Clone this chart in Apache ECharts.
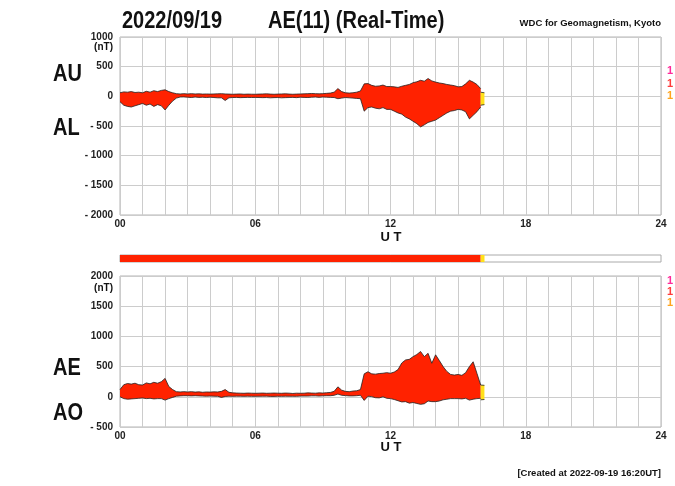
<!DOCTYPE html>
<html>
<head>
<meta charset="utf-8">
<title>AE(11) Real-Time</title>
<script src="https://cdn.jsdelivr.net/npm/echarts@6/dist/echarts.min.js"></script>
<style>
  html, body { margin: 0; padding: 0; background: #fff; }
  #main { width: 675px; height: 486px; }
</style>
</head>
<body>
<div id="main"></div>
<script>
// 10-minute values, 00:00 .. 16:00 UT
const stepMin = 10;
const AU = [60, 75, 70, 80, 65, 70, 60, 85, 70, 95, 80, 100,
  110, 80, 60, 45, 40, 45, 40, 45, 40, 42, 38, 40,
  38, 40, 42, 45, 40, 38, 35, 38, 40, 35, 38, 36,
  35, 38, 40, 42, 38, 35, 38, 40, 42, 38, 35, 38,
  40, 42, 45, 48, 45, 42, 45, 50, 55, 70, 130, 80,
  60, 55, 60, 70, 90, 210, 215, 185, 170, 175, 190, 165,
  165, 160, 150, 170, 185, 200, 230, 245, 270, 255, 300, 260,
  240, 225, 215, 200, 190, 180, 160, 165, 210, 270, 240, 200,
  130];
const AL = [-90, -150, -170, -180, -160, -140, -120, -150, -130, -170, -140, -160,
  -230, -150, -80, -30, -12, -10, -15, -20, -12, -18, -15, -20,
  -15, -20, -25, -25, -70, -25, -20, -18, -22, -20, -18, -20,
  -18, -20, -22, -20, -25, -22, -20, -25, -22, -20, -18, -22,
  -15, -18, -20, -15, -12, -18, -12, -15, -18, -20, -40, -30,
  -20, -25, -30, -35, -40, -250, -190, -180, -200, -210, -190, -220,
  -220, -250, -280, -300, -350, -380, -420, -460, -515, -480, -440, -420,
  -400, -360, -320, -280, -250, -240, -220, -230, -260, -380, -320, -260,
  -180];
const AE = [120, 200, 220, 210, 225, 200, 195, 230, 215, 240, 225, 250,
  305, 170, 120, 85, 80, 85, 80, 85, 78, 82, 75, 80,
  78, 82, 80, 90, 120, 75, 65, 62, 60, 58, 62, 60,
  58, 60, 62, 58, 60, 62, 60, 58, 62, 60, 55, 60,
  58, 60, 65, 62, 60, 65, 62, 68, 72, 90, 165, 110,
  90, 85, 95, 100, 120, 380, 415, 380, 375, 385, 390, 400,
  390, 410, 450, 560, 610, 620, 665, 700, 750, 665, 720, 555,
  695, 600, 500, 420, 370, 360, 370, 355, 400, 500, 580, 390,
  195];
const AO = [0, -30, -40, -35, -30, -25, -20, -30, -25, -35, -30, -30,
  -55, -30, -10, 10, 15, 18, 18, 15, 18, 15, 12, 10,
  12, 10, 8, -10, 5, 10, 8, 10, 10, 8, 10, 8,
  8, 9, 10, 11, 7, 7, 9, 8, 10, 9, 9, 8,
  12, 12, 12, 16, 16, 12, 16, 18, 18, 25, 45, 25,
  20, 15, 15, 18, 25, -60, 10, 3, -15, -18, 0, -25,
  -30, -45, -65, -85, -80, -105, -95, -110, -125, -115, -70, -80,
  -80, -70, -50, -40, -30, -30, -30, -35, -25, -55, -40, -30,
  -25];
// latest (provisional) values 16:00 and 16:10, drawn yellow
const recentAU = [70, 60];
const recentAL = [-150, -140];
const recentAE = [195, 190];
const recentAO = [-50, -45];
// data coverage bar: [final, provisional] hours
const coverage = [16.0, 0.17];

const xTicks = ['00', '06', '12', '18', '24'];
// category axis: one slot every 10 minutes over the whole day
const times = [];
for (let m = 0; m <= 24 * 60; m += stepMin) times.push(m);
const perHour = 60 / stepMin;

const font = "'Liberation Sans', Arial, sans-serif";
const red = '#ff2200';
const yellow = '#ffe01a';
const gridGray = '#cccccc';

function diff(a, b) { return a.map((v, i) => v - b[i]); }
function atEnd(vals) { return Array(AU.length - 1).fill('-').concat(vals); }

function xAxisFor(idx) {
  return {
    gridIndex: idx, type: 'category', data: times, boundaryGap: false,
    axisLine: { show: false }, axisTick: { show: false },
    axisLabel: {
      margin: 4, fontSize: 10, fontWeight: 'bold', color: '#222', fontFamily: font,
      interval: i => i % (6 * perHour) === 0,
      formatter: (v, i) => xTicks[i / (6 * perHour)]
    },
    splitLine: { show: true, interval: i => i % perHour === 0, lineStyle: { color: gridGray, width: 1 } }
  };
}
function yAxisFor(idx, min, max) {
  return {
    gridIndex: idx, type: 'value', min: min, max: max, interval: 500,
    axisLine: { show: false }, axisTick: { show: false },
    axisLabel: {
      margin: 7, fontSize: 10, fontWeight: 'bold', color: '#222', fontFamily: font,
      formatter: v => v < 0 ? '- ' + (-v) : String(v)
    },
    splitLine: { show: true, lineStyle: { color: gridGray, width: 1 } }
  };
}
function band(idx, stack, lower, upper, fill) {
  return [
    {
      type: 'line', xAxisIndex: idx, yAxisIndex: idx, stack: stack, stackStrategy: 'all',
      data: lower, symbol: 'none', z: 4,
      lineStyle: { color: '#222', width: 0.8 }
    },
    {
      type: 'line', xAxisIndex: idx, yAxisIndex: idx, stack: stack, stackStrategy: 'all',
      data: diff(upper, lower), symbol: 'none', z: 3,
      lineStyle: { color: '#222', width: 0.8 },
      areaStyle: { color: fill, opacity: 1 }
    }
  ];
}

function label(text, x, y, size, opts) {
  opts = opts || {};
  return {
    type: 'text', x: x, y: y, scaleY: opts.scaleY || 1, z: 100,
    style: {
      text: text, fill: opts.color || '#111',
      font: 'bold ' + size + 'px ' + font,
      align: opts.align || 'left', textAlign: opts.align || 'left',
      verticalAlign: 'middle', textVerticalAlign: 'middle'
    }
  };
}

const chart = echarts.init(document.getElementById('main'));
const option = {
  animation: false,
  backgroundColor: '#fff',
  grid: [
    { left: 120, top: 37, width: 541, height: 178, show: true, borderColor: '#b5b5b5', borderWidth: 1 },
    { left: 120, top: 255, width: 541, height: 7, show: true, borderColor: '#aaaaaa', borderWidth: 1, backgroundColor: '#fff' },
    { left: 120, top: 276, width: 541, height: 151, show: true, borderColor: '#b5b5b5', borderWidth: 1 }
  ],
  xAxis: [
    xAxisFor(0),
    { gridIndex: 1, type: 'value', min: 0, max: 24, show: false, splitLine: { show: false } },
    xAxisFor(2)
  ],
  yAxis: [
    yAxisFor(0, -2000, 1000),
    { gridIndex: 1, type: 'category', data: ['data'], show: false },
    yAxisFor(2, -500, 2000)
  ],
  series: [
    ...band(0, 'aual', AL, AU, red),
    ...band(0, 'aualRecent', atEnd(recentAL), atEnd(recentAU), yellow),
    ...band(2, 'aeao', AO, AE, red),
    ...band(2, 'aeaoRecent', atEnd(recentAO), atEnd(recentAE), yellow),
    { type: 'bar', xAxisIndex: 1, yAxisIndex: 1, stack: 'cov', barWidth: '100%',
      data: [coverage[0]], itemStyle: { color: red } },
    { type: 'bar', xAxisIndex: 1, yAxisIndex: 1, stack: 'cov', barWidth: '100%',
      data: [coverage[1]], itemStyle: { color: yellow } }
  ],
  graphic: [
    label('2022/09/19', 122, 21, 20, { scaleY: 1.2 }),
    label('AE(11) (Real-Time)', 268, 21, 20, { scaleY: 1.2 }),
    label('WDC for Geomagnetism, Kyoto', 661, 23, 9.5, { align: 'right' }),
    label('AU', 53, 74, 20, { scaleY: 1.2 }),
    label('AL', 53, 128, 20, { scaleY: 1.2 }),
    label('AE', 53, 368, 20, { scaleY: 1.2 }),
    label('AO', 53, 413, 20, { scaleY: 1.2 }),
    label('(nT)', 113, 47, 10, { align: 'right' }),
    label('(nT)', 113, 288, 10, { align: 'right' }),
    label('U T', 391, 237, 13, { align: 'center' }),
    label('U T', 391, 447, 13, { align: 'center' }),
    label('[Created at 2022-09-19 16:20UT]', 661, 473, 9.5, { align: 'right' }),
    label('1', 667, 71, 11, { color: '#ff2a9a' }),
    label('1', 667, 84, 11, { color: '#ff3b3b' }),
    label('1', 667, 96, 11, { color: '#ffa51f' }),
    label('1', 667, 281, 11, { color: '#ff2a9a' }),
    label('1', 667, 292, 11, { color: '#ff3b3b' }),
    label('1', 667, 303, 11, { color: '#ffa51f' })
  ]
};
option && chart.setOption(option);
</script>
</body>
</html>
